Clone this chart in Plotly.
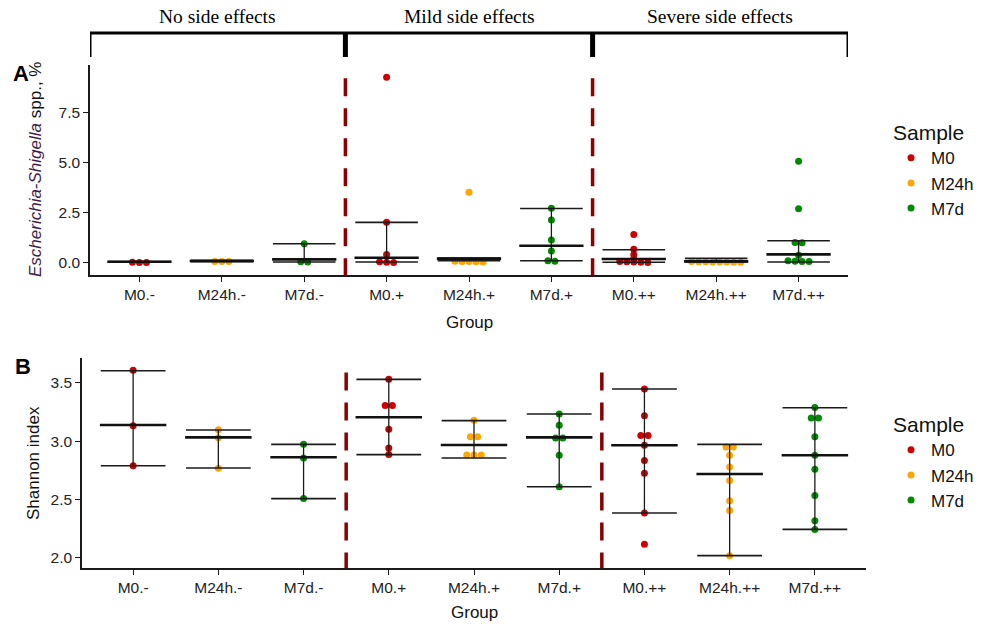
import plotly.graph_objects as go

# ---------------- data ----------------
groups = ["M0.-", "M24h.-", "M7d.-", "M0.+", "M24h.+", "M7d.+", "M0.++", "M24h.++", "M7d.++"]
samples = ["M0", "M24h", "M7d"]
sample_colors = ["#D00000", "#FFA500", "#008B00"]

# Panel A: Escherichia-Shigella spp., %
A_M0_minus = [0.01, 0.0, 0.0]
A_M24h_minus = [0.05, 0.05, 0.04]
A_M7d_minus = [0.93, 0.03, 0.02]
A_M0_plus = [9.25, 2.0, 0.4, 0.03, 0.01, 0.0]
A_M24h_plus = [3.5, 0.06, 0.05, 0.04, 0.03, 0.02]
A_M7d_plus = [2.7, 2.12, 1.12, 0.57, 0.08, 0.06]
A_M0_pp = [1.40, 0.66, 0.40, 0.18, 0.05, 0.03, 0.02, 0.01, 0.0]
A_M24h_pp = [0.04, 0.03, 0.03, 0.02, 0.02, 0.02, 0.01, 0.01]
A_M7d_pp = [5.06, 2.68, 1.0, 0.98, 0.36, 0.08, 0.06, 0.05, 0.04]
A_upper = [0.04, 0.10, 0.93, 2.0, 0.22, 2.69, 0.63, 0.20, 1.08]
A_mid = [0.03, 0.07, 0.15, 0.23, 0.19, 0.83, 0.17, 0.05, 0.40]
A_lower = [0.02, 0.04, 0.02, 0.02, 0.08, 0.08, 0.01, 0.02, 0.02]

# Panel B: Shannon index
B_M0_minus = [3.608, 3.134, 2.79]
B_M24h_minus = [3.10, 3.03, 2.769]
B_M7d_minus = [2.974, 2.857, 2.509]
B_M0_plus = [3.531, 3.306, 3.306, 3.103, 2.943, 2.886]
B_M24h_plus = [3.18, 3.04, 3.04, 2.883, 2.883, 2.883]
B_M7d_plus = [3.234, 3.137, 3.028, 3.028, 2.88, 2.61]
B_M0_pp = [3.448, 3.22, 3.05, 3.05, 2.966, 2.835, 2.726, 2.386, 2.117]
B_M24h_pp = [2.951, 2.951, 2.88, 2.78, 2.663, 2.49, 2.406, 2.02]
B_M7d_pp = [3.289, 3.20, 3.20, 3.04, 2.88, 2.76, 2.535, 2.32, 2.243]
B_upper = [3.605, 3.097, 2.974, 3.531, 3.177, 3.234, 3.448, 2.974, 3.287]
B_mid = [3.14, 3.034, 2.863, 3.206, 2.968, 3.034, 2.966, 2.72, 2.88]
B_lower = [2.79, 2.771, 2.509, 2.886, 2.857, 2.61, 2.386, 2.02, 2.245]

A_values = [A_M0_minus, A_M24h_minus, A_M7d_minus, A_M0_plus, A_M24h_plus,
            A_M7d_plus, A_M0_pp, A_M24h_pp, A_M7d_pp]
B_values = [B_M0_minus, B_M24h_minus, B_M7d_minus, B_M0_plus, B_M24h_plus,
            B_M7d_plus, B_M0_pp, B_M24h_pp, B_M7d_pp]

section_labels = ["No side effects", "Mild side effects", "Severe side effects"]
section_bounds = [2.5, 5.5]

# ---------------- helpers ----------------
DOT = 0.085
HALF = 0.38


def swarm(vals, tol):
    """centered dot rows: values closer than tol share a row"""
    order = sorted(range(len(vals)), key=lambda i: -vals[i])
    offs = [0.0] * len(vals)
    rows, cur = [], [order[0]]
    for i in order[1:]:
        if vals[cur[0]] - vals[i] <= tol:
            cur.append(i)
        else:
            rows.append(cur)
            cur = [i]
    rows.append(cur)
    for r in rows:
        k = len(r)
        for j, i in enumerate(r):
            offs[i] = (j - (k - 1) / 2) * DOT
    return offs


XR = [-0.6, 8.6]
fig = go.Figure()


def add_panel(values, upper, mid, lower, xa, ya, legend, tol):
    for s, (name, col) in enumerate(zip(samples, sample_colors)):
        xs, ys = [], []
        for g in range(s, len(groups), 3):
            offs = swarm(values[g], tol)
            xs += [g + o for o in offs]
            ys += values[g]
        fig.add_trace(go.Scatter(x=xs, y=ys, mode="markers", name=name,
                                 marker=dict(color=col, size=7),
                                 xaxis=xa, yaxis=ya, legend=legend,
                                 showlegend=True, hoverinfo="skip"))
    ex, ey, mx, my, vx, vy = [], [], [], [], [], []
    for g in range(len(groups)):
        for v in (upper[g], lower[g]):
            ex += [g - HALF, g + HALF, None]
            ey += [v, v, None]
        mx += [g - HALF - 0.01, g + HALF + 0.01, None]
        my += [mid[g], mid[g], None]
        vx += [g, g, None]
        vy += [lower[g], upper[g], None]
    common = dict(mode="lines", xaxis=xa, yaxis=ya, showlegend=False, hoverinfo="skip")
    fig.add_trace(go.Scatter(x=vx, y=vy, line=dict(color="#1a1a1a", width=1.3), **common))
    fig.add_trace(go.Scatter(x=ex, y=ey, line=dict(color="#1a1a1a", width=1.6), **common))
    fig.add_trace(go.Scatter(x=mx, y=my, line=dict(color="#111111", width=2.6), **common))


add_panel(A_values, A_upper, A_mid, A_lower, "x", "y", "legend", 0.12)
add_panel(B_values, B_upper, B_mid, B_lower, "x2", "y2", "legend2", 0.03)

W, H = 986, 626
SANS = "Liberation Sans, Arial, sans-serif"
tickfont = dict(family=SANS, size=15.5, color="#222222")
axis_common = dict(showline=True, linecolor="#1a1a1a", linewidth=1.6, ticks="outside",
                   ticklen=5, tickcolor="#1a1a1a", tickwidth=1.3, showgrid=False,
                   zeroline=False, tickfont=tickfont, mirror=False)

legend_common = dict(xanchor="left", yanchor="top", itemwidth=30,
                     title=dict(text="Sample", font=dict(family=SANS, size=21, color="#111")),
                     font=dict(family=SANS, size=17, color="#111"),
                     bgcolor="rgba(0,0,0,0)", itemsizing="trace")

fig.update_layout(
    width=W, height=H, margin=dict(l=0, r=0, t=0, b=0),
    paper_bgcolor="white", plot_bgcolor="white",
    xaxis=dict(domain=[90 / W, 848 / W], range=XR, tickvals=list(range(len(groups))),
               ticktext=groups, anchor="y", **axis_common),
    yaxis=dict(domain=[1 - 275 / H, 1 - 65 / H], range=[-0.63, 9.865],
               tickvals=[0, 2.5, 5, 7.5], tickformat=".1f", anchor="x", **axis_common),
    xaxis2=dict(domain=[82 / W, 866 / W], range=XR, tickvals=list(range(len(groups))),
                ticktext=groups, anchor="y2", **axis_common),
    yaxis2=dict(domain=[1 - 568 / H, 1 - 358 / H], range=[1.914, 3.714],
                tickvals=[2.0, 2.5, 3.0, 3.5], tickformat=".1f", anchor="x2", **axis_common),
    legend=dict(x=891 / W, y=1 - 113 / H, **legend_common),
    legend2=dict(x=891 / W, y=1 - 405 / H, **legend_common),
    font=dict(family=SANS, color="#111"),
)

# dashed separators
shapes = []
for b in section_bounds:
    shapes.append(dict(type="line", xref="x", yref="y", x0=b, x1=b, y0=9.2, y1=-0.63,
                       line=dict(color="#8B0000", width=3.5, dash="18px,12px")))
    shapes.append(dict(type="line", xref="x2", yref="y2", x0=b, x1=b, y0=3.59, y1=1.914,
                       line=dict(color="#8B0000", width=3.5, dash="18px,12px")))

# section brackets on top of panel A
bracket_y = 1 - 33 / H
tick_y = 1 - 57 / H
edges = [XR[0]] + section_bounds + [XR[1]]
shapes.append(dict(type="line", xref="x", yref="paper", x0=edges[0], x1=edges[-1],
                   y0=bracket_y, y1=bracket_y, line=dict(color="black", width=3)))
for i, e in enumerate(edges):
    w = 3 if i in (0, len(edges) - 1) else 5
    shapes.append(dict(type="line", xref="x", yref="paper", x0=e, x1=e,
                       y0=bracket_y, y1=tick_y, line=dict(color="black", width=w)))
fig.update_layout(shapes=shapes)

C = dict(showarrow=False, xanchor="center", yanchor="middle")
ann = []
for i, lab in enumerate(section_labels):
    cx = (edges[i] + edges[i + 1]) / 2
    ann.append(dict(text=lab, xref="x", yref="paper", x=cx, y=1 - 17 / H,
                    font=dict(family="Liberation Serif, Times New Roman, serif",
                              size=19.5, color="black"), **C))
ann += [
    dict(text="<b>A</b>", xref="paper", yref="paper", x=21 / W, y=1 - 73 / H,
         font=dict(family=SANS, size=22, color="black"), **C),
    dict(text="<b>B</b>", xref="paper", yref="paper", x=23 / W, y=1 - 366 / H,
         font=dict(family=SANS, size=22, color="black"), **C),
    dict(text="<i><span style='color:#3f1d48'>Escherichia-Shigella</span></i> spp., %",
         xref="paper", yref="paper", x=36 / W, y=1 - 170 / H, textangle=-90,
         font=dict(family=SANS, size=17, color="#111"), **C),
    dict(text="Shannon index", xref="paper", yref="paper", x=33 / W, y=1 - 463 / H,
         textangle=-90, font=dict(family=SANS, size=17, color="#111"), **C),
    dict(text="Group", xref="paper", yref="paper", x=469 / W, y=1 - 322 / H,
         font=dict(family=SANS, size=17, color="#111"), **C),
    dict(text="Group", xref="paper", yref="paper", x=474 / W, y=1 - 612 / H,
         font=dict(family=SANS, size=17, color="#111"), **C),
]
fig.update_layout(annotations=ann)

fig.write_html("out.html", config={"displayModeBar": False},
               post_script="document.body.style.margin='0';")
